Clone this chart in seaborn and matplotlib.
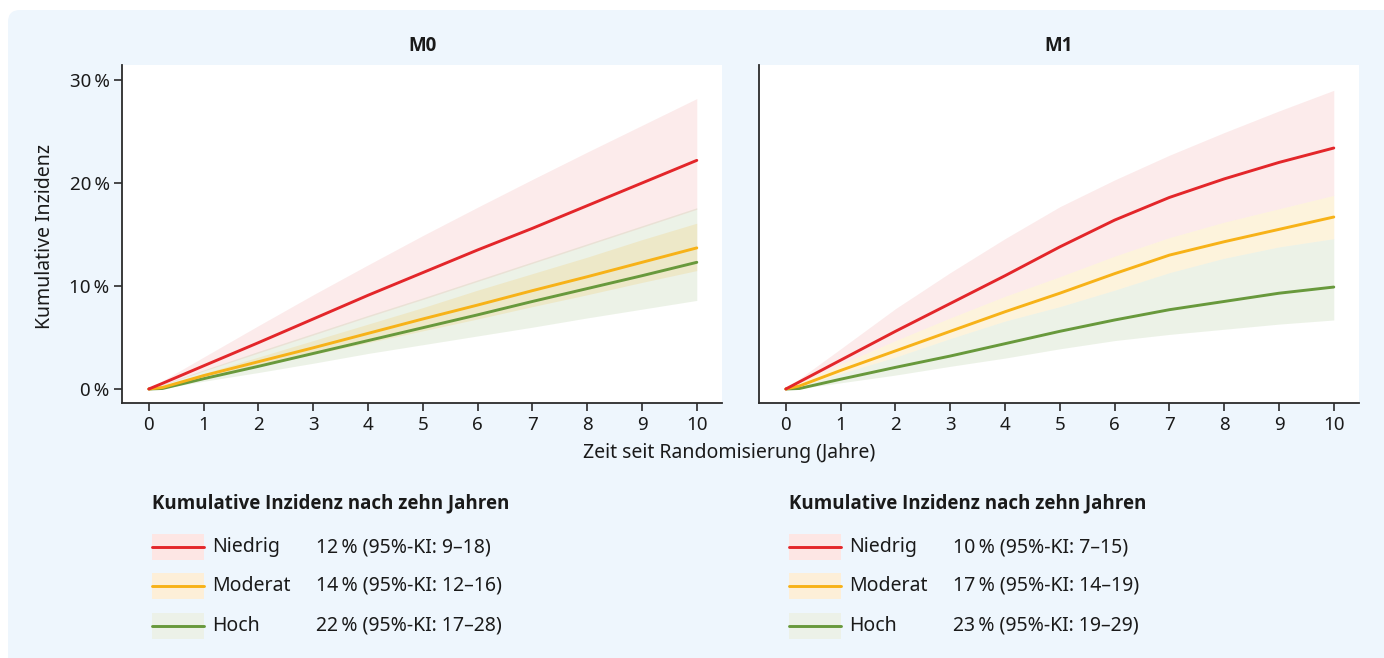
import numpy as np
import pandas as pd
import matplotlib
matplotlib.use("Agg")
import matplotlib.pyplot as plt
import seaborn as sns
from matplotlib.patches import FancyBboxPatch, Rectangle
from matplotlib.lines import Line2D
from matplotlib.transforms import IdentityTransform

# ---------------- data ----------------
years = [0, 0.25, 1, 2, 3, 4, 5, 6, 7, 8, 9, 10]
groups = ["Niedrig", "Moderat", "Hoch"]

# M0
m0_red = [0, 0.55, 2.25, 4.5, 6.8, 9.1, 11.3, 13.5, 15.6, 17.8, 20.0, 22.2]
m0_red_lo = [0, 0.4, 1.75, 3.5, 5.25, 7.0, 8.7, 10.45, 12.2, 13.95, 15.7, 17.45]
m0_red_hi = [0, 0.8, 3.1, 6.15, 9.15, 12.05, 14.9, 17.65, 20.35, 23.0, 25.6, 28.2]
m0_orange = [0, 0.15, 1.3, 2.65, 4.0, 5.4, 6.8, 8.15, 9.55, 10.9, 12.3, 13.7]
m0_orange_lo = [0, 0.1, 1.05, 2.2, 3.35, 4.5, 5.65, 6.8, 8.0, 9.15, 10.35, 11.5]
m0_orange_hi = [0, 0.25, 1.5, 3.1, 4.7, 6.3, 7.9, 9.6, 11.2, 12.8, 14.5, 16.1]
m0_green = [0, 0.05, 1.0, 2.2, 3.45, 4.7, 5.95, 7.2, 8.5, 9.75, 11.0, 12.3]
m0_green_lo = [0, 0.05, 0.75, 1.6, 2.5, 3.45, 4.3, 5.15, 6.0, 6.9, 7.75, 8.6]
m0_green_hi = [0, 0.45, 1.85, 3.65, 5.4, 7.15, 8.85, 10.6, 12.35, 14.1, 15.85, 17.6]

# M1
m1_red = [0, 0.7, 2.8, 5.6, 8.3, 11.0, 13.8, 16.4, 18.6, 20.4, 22.0, 23.4]
m1_red_lo = [0, 0.6, 2.4, 4.7, 6.9, 9.0, 10.9, 12.9, 14.7, 16.2, 17.5, 18.8]
m1_red_hi = [0, 1.0, 3.9, 7.8, 11.3, 14.6, 17.7, 20.3, 22.7, 24.9, 27.0, 29.0]
m1_orange = [0, 0.3, 1.8, 3.7, 5.6, 7.5, 9.3, 11.2, 13.0, 14.3, 15.5, 16.7]
m1_orange_lo = [0, 0.25, 1.5, 3.1, 4.9, 6.6, 8.0, 9.6, 11.3, 12.7, 13.8, 14.6]
m1_orange_hi = [0, 0.6, 2.4, 4.7, 6.9, 9.0, 10.9, 12.9, 14.7, 16.2, 17.5, 18.8]
m1_green = [0, 0.05, 0.95, 2.1, 3.2, 4.4, 5.6, 6.7, 7.7, 8.5, 9.3, 9.9]
m1_green_lo = [0, 0.05, 0.6, 1.35, 2.2, 3.0, 3.9, 4.7, 5.3, 5.8, 6.3, 6.7]
m1_green_hi = [0, 0.25, 1.5, 3.1, 4.9, 6.6, 8.0, 9.6, 11.3, 12.7, 13.8, 14.6]

panel_titles = ["M0", "M1"]
legend_values_m0 = ["12\u2009% (95%-KI: 9\u201318)", "14\u2009% (95%-KI: 12\u201316)", "22\u2009% (95%-KI: 17\u201328)"]
legend_values_m1 = ["10\u2009% (95%-KI: 7\u201315)", "17\u2009% (95%-KI: 14\u201319)", "23\u2009% (95%-KI: 19\u201329)"]
legend_title = "Kumulative Inzidenz nach zehn Jahren"
x_ticks = list(range(0, 11))
y_ticks = [0, 10, 20, 30]
y_ticklabels = ["0\u2009%", "10\u2009%", "20\u2009%", "30\u2009%"]
x_label = "Zeit seit Randomisierung (Jahre)"
y_label = "Kumulative Inzidenz"

# ---------------- style ----------------
sns.set_theme(style="white")
plt.rcParams["font.family"] = ["Noto Sans", "DejaVu Sans"]
BOLD_FAMILY = ["Open Sans", "DejaVu Sans"]

line_colors = {"Niedrig": "#e3262a", "Moderat": "#f7b218", "Hoch": "#68993c"}
fill_rgba = {"Niedrig": ("#e3262a", 0.09), "Moderat": ("#f7b218", 0.15), "Hoch": ("#68993c", 0.12)}
legend_patch = {"Niedrig": "#fde6e4", "Moderat": "#fdefd8", "Hoch": "#ecf1e8"}
TXT = "#1a1a1a"
SPINE = "#2b2b2b"
FS = 14

W, H = 1384, 658
fig = plt.figure(figsize=(W / 100, H / 100), dpi=100)
fig.patch.set_facecolor("white")
bg = FancyBboxPatch((8, -30), W + 30, H - 10 + 30,
                    boxstyle="round,pad=0,rounding_size=12",
                    transform=IdentityTransform(), facecolor="#eef6fd",
                    edgecolor="none", zorder=-5)
fig.patches.append(bg)

ax0 = fig.add_axes([122 / W, 1 - 403 / H, 600 / W, 338 / H])
ax1 = fig.add_axes([759 / W, 1 - 403 / H, 600 / W, 338 / H])

panels = [
    (ax0, {"Niedrig": (m0_red, m0_red_lo, m0_red_hi),
           "Moderat": (m0_orange, m0_orange_lo, m0_orange_hi),
           "Hoch": (m0_green, m0_green_lo, m0_green_hi)}),
    (ax1, {"Niedrig": (m1_red, m1_red_lo, m1_red_hi),
           "Moderat": (m1_orange, m1_orange_lo, m1_orange_hi),
           "Hoch": (m1_green, m1_green_lo, m1_green_hi)}),
]

for i, (ax, data) in enumerate(panels):
    ax.set_facecolor("white")
    for g in ["Niedrig", "Hoch", "Moderat"]:
        mid, lo, hi = data[g]
        c, a = fill_rgba[g]
        ax.fill_between(years, lo, hi, color=c, alpha=a, linewidth=0, zorder=1)
    rows = []
    for g in groups:
        for x, y in zip(years, data[g][0]):
            rows.append({"Jahr": x, "Inzidenz": y, "Gruppe": g})
    df = pd.DataFrame(rows)
    sns.lineplot(data=df, x="Jahr", y="Inzidenz", hue="Gruppe", hue_order=["Hoch", "Moderat", "Niedrig"],
                 palette=line_colors, linewidth=2.1, legend=False, ax=ax, zorder=3,
                 errorbar=None, sort=True)
    ax.set_xlim(-0.49, 10.46)
    ax.set_ylim(-1.36, 31.46)
    ax.set_xticks(x_ticks)
    ax.set_xticklabels([str(t) for t in x_ticks])
    ax.set_xlabel("")
    ax.set_ylabel("")
    for s in ["top", "right"]:
        ax.spines[s].set_visible(False)
    for s in ["left", "bottom"]:
        ax.spines[s].set_color(SPINE)
        ax.spines[s].set_linewidth(1.3)
    ax.tick_params(axis="x", direction="out", length=6, width=1.2, color=SPINE,
                   labelsize=FS - 0.5, labelcolor=TXT, pad=3, bottom=True)
    if i == 0:
        ax.set_yticks(y_ticks)
        ax.set_yticklabels(y_ticklabels)
        ax.tick_params(axis="y", direction="out", length=6, width=1.2, color=SPINE,
                       labelsize=FS - 0.5, labelcolor=TXT, pad=3, left=True)
    else:
        ax.set_yticks([])
    ax.set_title(panel_titles[i], fontsize=FS - 0.5, fontweight="bold", family=BOLD_FAMILY,
                 color=TXT, pad=10)

fig.text(729 / W, 1 - 453 / H, x_label, ha="center", va="center", fontsize=FS, color=TXT)
fig.text(45 / W, 1 - 237 / H, y_label, ha="center", va="center", rotation=90, fontsize=FS, color=TXT)

# ---------------- legends ----------------
def px(x, y):
    return (x / W, 1 - y / H)

def draw_legend(x0, label_x, value_x, values):
    fig.text(*px(x0, 503), legend_title, ha="left", va="center", fontsize=FS - 0.5,
             fontweight="bold", family=BOLD_FAMILY, color=TXT)
    for k, (g, yc) in enumerate(zip(groups, [547, 586, 626])):
        rx, ry = px(x0, yc + 13)
        fig.patches.append(Rectangle((rx, ry), 52 / W, 26 / H, transform=fig.transFigure,
                                     facecolor=legend_patch[g], edgecolor="none", zorder=2))
        lx0, ly = px(x0, yc)
        lx1, _ = px(x0 + 52, yc)
        fig.lines.append(Line2D([lx0, lx1], [ly, ly], transform=fig.transFigure,
                                color=line_colors[g], linewidth=2.1, zorder=3))
        fig.text(*px(label_x, yc), g, ha="left", va="center", fontsize=FS, color=TXT)
        fig.text(*px(value_x, yc), values[k], ha="left", va="center", fontsize=FS, color=TXT)

draw_legend(152, 212, 316, legend_values_m0)
draw_legend(789, 849, 953, legend_values_m1)

fig.savefig("out.png", dpi=100, facecolor=fig.get_facecolor())
